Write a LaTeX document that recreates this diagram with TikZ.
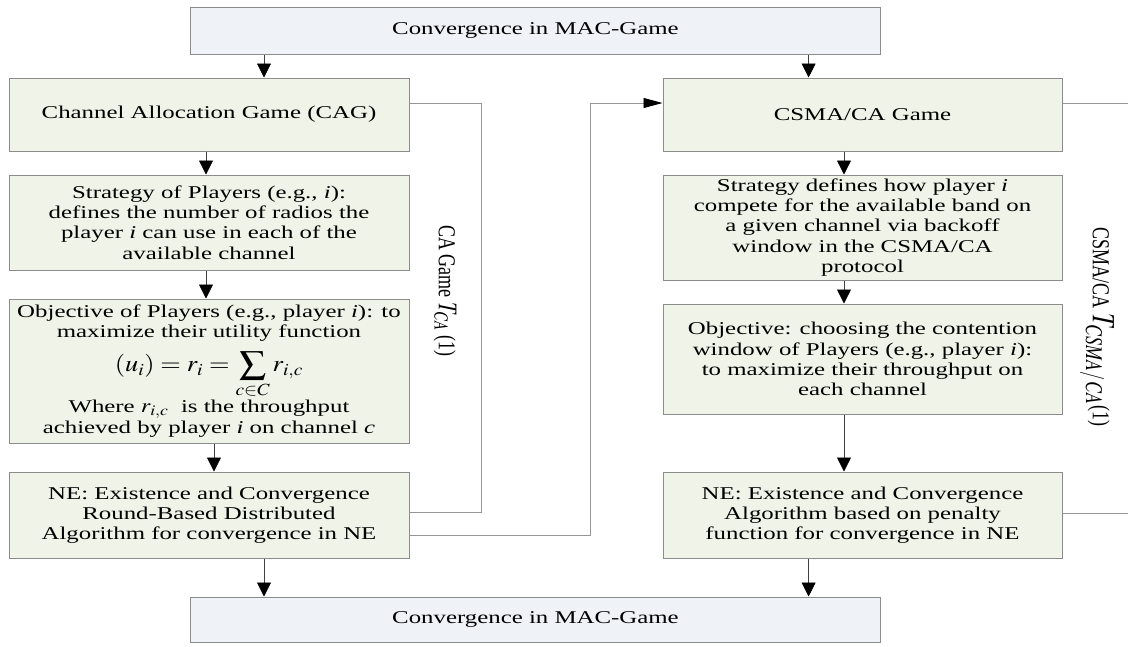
\documentclass[tikz,border=0pt]{standalone}
\usepackage{mathptmx}
\usepackage{fontspec}
\setmainfont{Liberation Serif}[FakeStretch=1.38]
\newfontfamily\plainserif{Liberation Serif}
\usetikzlibrary{arrows.meta}
\definecolor{gfill}{RGB}{240,243,231}
\definecolor{bfill}{RGB}{239,242,247}
\definecolor{bord}{RGB}{140,140,140}
\definecolor{lncol}{RGB}{150,150,150}
\begin{document}
\begin{tikzpicture}[x=1pt,y=-1pt,
  box/.style={draw=bord, line width=1pt, inner sep=0pt, align=center,
    font=\fontsize{18}{20.3}\selectfont},
  gbox/.style={box, fill=gfill},
  bbox/.style={box, fill=bfill},
  varr/.style={draw=black!75, line width=0.8pt, -{Triangle[length=14pt,width=14pt,color=black,fill=black]}},
  harr/.style={draw=lncol, line width=0.8pt, -{Triangle[length=19pt,width=10pt,color=black,fill=black]}},
  conn/.style={draw=lncol, line width=0.8pt},
  sidelabel/.style={rotate=-90, inner sep=0pt, font=\plainserif\fontsize{18}{18}\selectfont}
]
\useasboundingbox (0,0) rectangle (1128,646);

% boxes
\node[bbox, minimum width=690pt, minimum height=47.5pt] (top) at (535.5,30.75) {Convergence in MAC-Game};
\node[gbox, minimum width=400pt, minimum height=73pt] (cag) at (209,114.5) {Channel Allocation Game (CAG)};
\node[gbox, minimum width=399pt, minimum height=73pt] (csg) at (862.5,114.5) {CSMA/CA Game};
\node[gbox, minimum width=400pt, minimum height=95pt] (stratL) at (209,222.5)
  {Strategy of Players (e.g., \textit{i}):\\ defines the number of radios the\\ player \textit{i} can use in each of the\\ available channel};
\node[gbox, minimum width=400pt, minimum height=144pt] (objL) at (209,371)
  {Objective of Players (e.g., player \textit{i}): to\\ maximize their utility function\\[9pt]
   \scalebox{1.15}[1]{\fontsize{23}{23}\selectfont$\displaystyle (u_i) = r_i = \sum_{c\in C} r_{i,c}$}\\[1pt]
   Where \scalebox{1.2}[1]{\fontsize{20}{20}\selectfont$r_{i,c}$}\ \ is the throughput\\ achieved by player \textit{i} on channel \textit{c}};
\node[gbox, minimum width=400pt, minimum height=86pt] (neL) at (209,515)
  {NE: Existence and Convergence\\ Round-Based Distributed\\ Algorithm for convergence in NE};
\node[gbox, minimum width=399pt, minimum height=105pt] (stratR) at (862.5,227.5)
  {Strategy defines how player \textit{i}\\ compete for the available band on\\ a given channel via backoff\\ window in the CSMA/CA\\ protocol};
\node[gbox, minimum width=399pt, minimum height=110pt] (objR) at (862.5,359)
  {Objective: choosing the contention\\ window of Players (e.g., player \textit{i}):\\ to maximize their throughput on\\ each channel};
\node[gbox, minimum width=399pt, minimum height=86pt] (neR) at (862.5,515)
  {NE: Existence and Convergence\\ Algorithm based on penalty\\ function for convergence in NE};
\node[bbox, minimum width=690pt, minimum height=45pt] (bot) at (535.5,619.5) {Convergence in MAC-Game};

% side labels
\node[sidelabel] (lblL) at (445,291) {\scalebox{1}[1.35]{CA Game {\fontsize{20}{20}\selectfont$T_{CA}$} (1)}};
\node[sidelabel] (lblR) at (1097,327) {\scalebox{1}[1.35]{CSMA/CA\ {\fontsize{24}{24}\selectfont$T_{CSMA/\,CA}$}(1)}};

% x positions of vertical arrows
\coordinate (xa) at (264,0);
\coordinate (xb) at (808.6,0);
\coordinate (xl1) at (206,0);
\coordinate (xl2) at (214,0);
\coordinate (xr) at (844,0);

\draw[varr] (top.south -| xa) -- (cag.north -| xa);
\draw[varr] (top.south -| xb) -- (csg.north -| xb);
\draw[varr] (cag.south -| xl1) -- (stratL.north -| xl1);
\draw[varr] (stratL.south -| xl1) -- (objL.north -| xl1);
\draw[varr] (objL.south -| xl2) -- (neL.north -| xl2);
\draw[varr] (csg.south -| xr) -- (stratR.north -| xr);
\draw[varr] (stratR.south -| xr) -- (objR.north -| xr);
\draw[varr] (objR.south -| xr) -- (neR.north -| xr);
\draw[varr] (neL.south -| xa) -- (bot.north -| xa);
\draw[varr] (neR.south -| xb) -- (bot.north -| xb);

% loops and links
\coordinate (c1) at (481,103);
\coordinate (c2) at (481,512);
\draw[conn] (cag.east |- c1) -- (c1) -- (c2) -- (neL.east |- c2);
\coordinate (c3) at (590,535);
\coordinate (c4) at (590,103);
\draw[harr] (neL.east |- c3) -- (c3) -- (c4) -- (csg.west |- c4);
\coordinate (e1) at (1128,103);
\coordinate (e2) at (1128,513);
\draw[conn] (csg.east |- e1) -- (e1);
\draw[conn] (neR.east |- e2) -- (e2);
\end{tikzpicture}
\end{document}
